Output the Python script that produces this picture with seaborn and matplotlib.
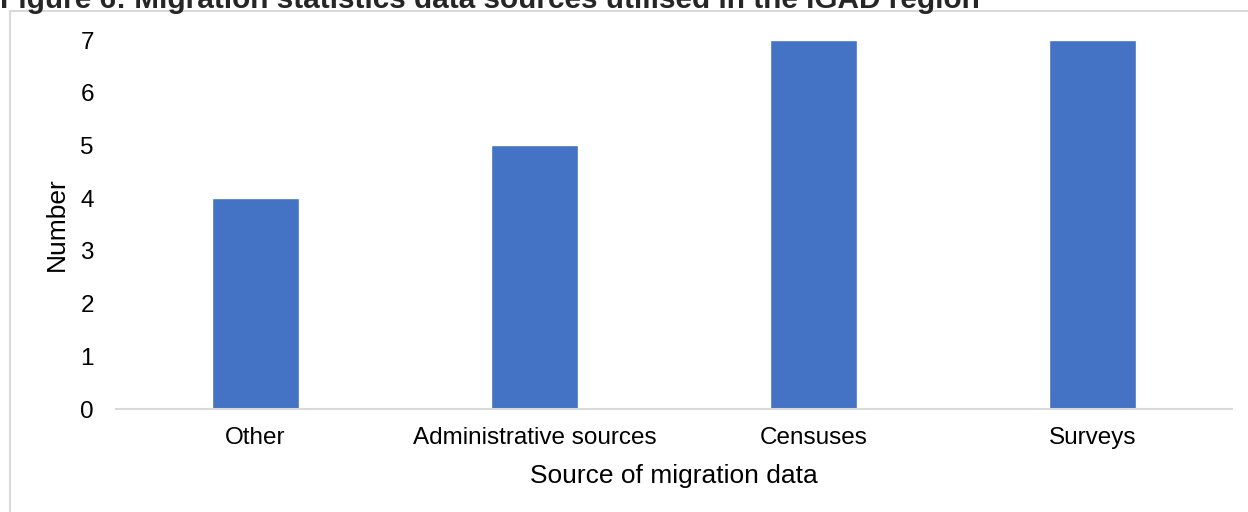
import matplotlib
matplotlib.use("Agg")
import matplotlib.pyplot as plt
import matplotlib.patches as mpatches
import seaborn as sns
import pandas as pd

sources = ["Other", "Administrative sources", "Censuses", "Surveys"]
counts = [4, 5, 7, 7]

df = pd.DataFrame({"source": sources, "count": counts})

sns.set_theme(style="white")
plt.rcParams["font.family"] = ["Liberation Sans", "DejaVu Sans"]

fig = plt.figure(figsize=(12.48, 5.12), dpi=100)
W, H = 1248, 512
# axes box in pixels: left 116, right 1232, top 40 (y=7), bottom 409 (y=0)
ax = fig.add_axes([116 / W, 1 - 409 / H, (1232 - 116) / W, (409 - 40) / H])

sns.barplot(data=df, x="source", y="count", color="#4472C4", width=0.31,
            saturation=1, ax=ax)

ax.set_ylim(0, 7)
ax.set_yticks(range(0, 8))
for s in ["top", "right", "left"]:
    ax.spines[s].set_visible(False)
ax.spines["bottom"].set_color("#d9d9d9")
ax.spines["bottom"].set_linewidth(1.5)
ax.tick_params(axis="both", length=0, labelsize=17.5, colors="black")
ax.tick_params(axis="y", pad=16)
ax.tick_params(axis="x", pad=13)
ax.set_xlabel("Source of migration data", fontsize=19, labelpad=11, color="black")
ax.set_ylabel("Number", fontsize=19, labelpad=8, color="black")

# outer chart border
fig.patches.append(mpatches.Rectangle((10 / W, -0.1), 1.2, 1 - 11 / H + 0.1,
                                      transform=fig.transFigure, fill=False,
                                      edgecolor="#d9d9d9", linewidth=1.5))

fig.text(0.0, 1 - 8 / H,
         "Figure 6: Migration statistics data sources utilised in the IGAD region",
         fontsize=21.4, fontweight="bold", ha="left", va="baseline")

fig.savefig("out.png", dpi=100)
